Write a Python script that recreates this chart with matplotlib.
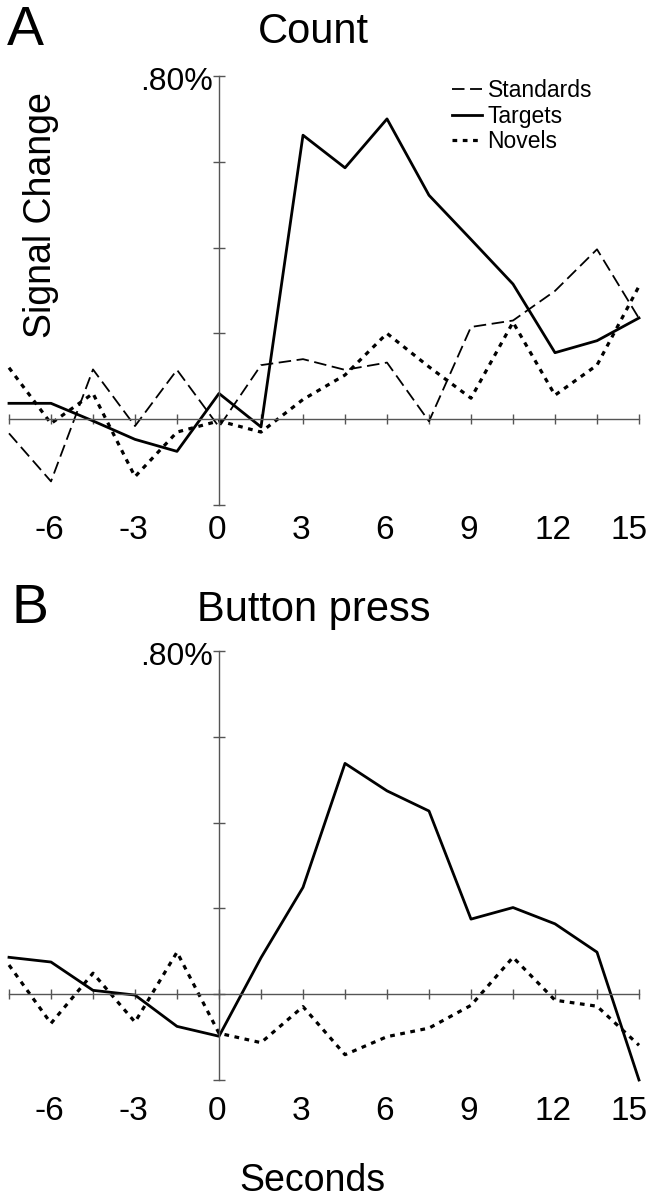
import matplotlib
matplotlib.use("Agg")
import matplotlib.pyplot as plt

plt.rcParams['font.family'] = ['Liberation Sans', 'DejaVu Sans']
plt.rcParams['lines.scale_dashes'] = False

# time points (s), one every 1.5 s
seconds = [-7.5, -6, -4.5, -3, -1.5, 0, 1.5, 3, 4.5, 6, 7.5, 9, 10.5, 12, 13.5, 15]
tick_labels = [-6, -3, 0, 3, 6, 9, 12, 15]

# panel A - Count (% signal change)
count_standards = [-0.033, -0.145, 0.116, -0.016, 0.115, -0.018, 0.126, 0.140,
                   0.115, 0.132, -0.005, 0.215, 0.230, 0.299, 0.396, 0.235]
count_targets = [0.037, 0.037, -0.004, -0.047, -0.075, 0.060, -0.018, 0.662,
                 0.586, 0.700, 0.522, 0.419, 0.315, 0.155, 0.183, 0.236]
count_novels = [0.120, -0.010, 0.060, -0.134, -0.030, -0.004, -0.030, 0.046,
                0.103, 0.200, 0.122, 0.049, 0.226, 0.056, 0.126, 0.310]

# panel B - Button press
press_targets = [0.086, 0.075, 0.009, -0.002, -0.075, -0.098, 0.085, 0.249,
                 0.538, 0.474, 0.427, 0.175, 0.202, 0.164, 0.098, -0.200]
press_novels = [0.068, -0.068, 0.049, -0.065, 0.098, -0.091, -0.113, -0.029,
                -0.141, -0.099, -0.079, -0.026, 0.086, -0.014, -0.028, -0.119]

W, H = 654, 1200
fig = plt.figure(figsize=(W / 100, H / 100), dpi=100)

def fx(px):
    return px / W

def fy(py):
    return 1 - py / H

axis_col = '#555555'
st_style = dict(color='black', lw=1.3, linestyle=(0, (9, 4)))
tg_style = dict(color='black', lw=2.0, linestyle='-')
nv_style = dict(color='black', lw=2.3, linestyle=(0, (3.4, 4.0)))


def setup_axes(top_px, bottom_px, label_off):
    ax = fig.add_axes([fx(9), fy(bottom_px), fx(630), (bottom_px - top_px) / H])
    ax.set_xlim(-7.5, 15)
    ax.set_ylim(-0.2, 0.8)
    for s in ['top', 'right']:
        ax.spines[s].set_visible(False)
    ax.spines['left'].set_position(('data', 0))
    ax.spines['bottom'].set_position(('data', 0))
    for s in ['left', 'bottom']:
        ax.spines[s].set_color(axis_col)
        ax.spines[s].set_linewidth(1.0)
    ax.set_xticks(seconds)
    ax.set_yticks([-0.2, 0, 0.2, 0.4, 0.6, 0.8])
    ax.set_xticklabels([])
    ax.set_yticklabels([])
    ax.tick_params(axis='x', direction='inout', length=7.5, width=1.0, color=axis_col)
    ax.tick_params(axis='y', direction='inout', length=8.5, width=1.0, color=axis_col)
    for t in tick_labels:
        if t == tick_labels[-1]:
            # last label sits against the right edge
            ax.annotate(str(t), xy=(t, 0), xycoords=('data', 'axes fraction'),
                        xytext=(9, -label_off), textcoords='offset pixels',
                        ha='right', va='center', fontsize=24)
        else:
            ax.annotate(str(t), xy=(t, 0), xycoords=('data', 'axes fraction'),
                        xytext=(-2, -label_off), textcoords='offset pixels',
                        ha='center', va='center', fontsize=24)
    ax.annotate('.80%', xy=(0, 0.8), xycoords='data', xytext=(-6, -6),
                textcoords='offset pixels', ha='right', va='center', fontsize=23)
    return ax


# panel A
axA = setup_axes(76, 505, 25)
axA.plot(seconds, count_standards, label='Standards', clip_on=False, **st_style)
axA.plot(seconds, count_targets, label='Targets', clip_on=False, **tg_style)
axA.plot(seconds, count_novels, label='Novels', clip_on=False, **nv_style)
axA.legend(loc='upper left', bbox_to_anchor=(fx(452), fy(79)), bbox_transform=fig.transFigure,
           frameon=False, fontsize=16.5, handlelength=1.3, handletextpad=0.25,
           labelspacing=0.12, borderpad=0, borderaxespad=0)

# panel B
axB = setup_axes(651, 1080, 32)
axB.plot(seconds, press_targets, clip_on=False, **tg_style)
axB.plot(seconds, press_novels, clip_on=False, **nv_style)

# titles and labels
fig.text(fx(7), fy(45), 'A', fontsize=40, ha='left', va='baseline')
fig.text(fx(313), fy(43), 'Count', fontsize=30, ha='center', va='baseline')
fig.text(fx(12), fy(623), 'B', fontsize=40, ha='left', va='baseline')
fig.text(fx(314), fy(621), 'Button press', fontsize=30, ha='center', va='baseline')
fig.text(fx(41), fy(215), 'Signal Change', fontsize=27, rotation=90, ha='center', va='center')
fig.text(fx(312), fy(1181), 'Seconds', fontsize=27, ha='center', va='center')

fig.savefig('out.png', dpi=100)
